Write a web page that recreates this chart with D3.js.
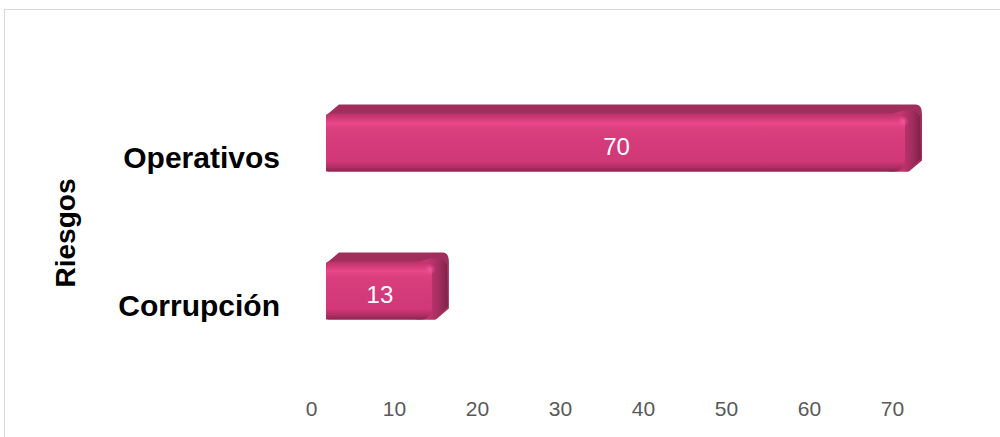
<!DOCTYPE html>
<html>
<head>
<meta charset="utf-8">
<script src="https://cdn.jsdelivr.net/npm/d3@7"></script>
<style>
  html, body { margin: 0; padding: 0; background: #ffffff; }
  svg { display: block; }
</style>
</head>
<body>
<svg id="chart" width="1000" height="437"></svg>
<script>
const categories = ["Operativos", "Corrupción"];
const values = [70, 13];
const tickValues = [0, 10, 20, 30, 40, 50, 60, 70];
const axisTitle = "Riesgos";

const svg = d3.select("#chart");
const defs = svg.append("defs");

// border of chart area
svg.append("rect")
  .attr("x", 4.5).attr("y", 9.5)
  .attr("width", 1010).attr("height", 440)
  .attr("fill", "none").attr("stroke", "#d9d9d9").attr("stroke-width", 1);

const x = d3.scaleLinear().domain([0, 70]).range([311, 892]);
const y = d3.scalePoint().domain(categories).range([142.5, 290.5]);
const barH = 58;
const dx = 15, dy = 9, depthShift = 15;

// gradients
const gFront = defs.append("linearGradient").attr("id", "gFront")
  .attr("x1", 0).attr("y1", 0).attr("x2", 0).attr("y2", 1);
[[0, "#b83267"], [0.08, "#d23a76"], [0.17, "#e9488a"], [0.26, "#da3f7e"], [0.5, "#d53b7a"],
 [0.82, "#d13877"], [0.92, "#b22f66"], [1, "#8e2450"]]
  .forEach(([o, c]) => gFront.append("stop").attr("offset", o).attr("stop-color", c));

const gSide = defs.append("linearGradient").attr("id", "gSide")
  .attr("x1", 0).attr("y1", 0).attr("x2", 1).attr("y2", 0);
[[0, "#d33a78"], [0.3, "#c43470"], [0.7, "#a02d5e"], [1, "#7e2249"]]
  .forEach(([o, c]) => gSide.append("stop").attr("offset", o).attr("stop-color", c));

const gTop = defs.append("linearGradient").attr("id", "gTop")
  .attr("x1", 0).attr("y1", 0).attr("x2", 0).attr("y2", 1);
[[0, "#a02e5d"], [1, "#a8315f"]]
  .forEach(([o, c]) => gTop.append("stop").attr("offset", o).attr("stop-color", c));

const gSpot = defs.append("radialGradient").attr("id", "gSpot")
  .attr("cx", 0.5).attr("cy", 0.5).attr("r", 0.5);
[[0, "#f0579a", 1], [1, "#e9488a", 0]]
  .forEach(([o, c, a]) => gSpot.append("stop").attr("offset", o).attr("stop-color", c).attr("stop-opacity", a));

const bars = svg.append("g").selectAll("g.bar")
  .data(categories.map((c, i) => ({ c, v: values[i] })))
  .join("g").attr("class", "bar");

bars.each(function(d) {
  const g = d3.select(this);
  const x0 = x(0) + depthShift;
  const x1 = x(d.v) + depthShift;
  const yt = y(d.c) - barH / 2;
  const yb = y(d.c) + barH / 2;
  const r = 6;
  // silhouette (top + side)
  const p = d3.path();
  p.moveTo(x0, yt + 2);
  p.lineTo(x0 + dx - 2, yt - dy);
  p.lineTo(x1 + dx - r, yt - dy);
  p.quadraticCurveTo(x1 + dx, yt - dy, x1 + dx, yt - dy + r + 4);
  p.lineTo(x1 + dx, yb - dy - 2);
  p.lineTo(x1 + 2, yb);
  p.lineTo(x0, yb);
  p.closePath();
  g.append("path").attr("d", p.toString()).attr("fill", "url(#gTop)");
  // side face
  const s = d3.path();
  s.moveTo(x1 - 14, yt);
  s.quadraticCurveTo(x1 + dx - 8, yt - dy + 1, x1 + dx - 2, yt - dy + r + 6);
  s.lineTo(x1 + dx - 1, yb - dy - 4);
  s.lineTo(x1 + 1, yb);
  s.lineTo(x1 - 14, yb);
  s.closePath();
  g.append("path").attr("d", s.toString()).attr("fill", "url(#gSide)");
  // front face
  g.append("rect")
    .attr("x", x0).attr("y", yt)
    .attr("width", Math.max(0, x1 - x0 - 12)).attr("height", barH)
    .attr("rx", 3)
    .attr("fill", "url(#gFront)");
  // rounded front right corner blend
  g.append("rect")
    .attr("x", x1 - 26).attr("y", yt)
    .attr("width", 24).attr("height", barH)
    .attr("rx", 10)
    .attr("fill", "url(#gFront)");
  // highlight spot
  g.append("ellipse")
    .attr("cx", x1 - 4).attr("cy", yt + 8)
    .attr("rx", 6).attr("ry", 6)
    .attr("fill", "url(#gSpot)");
  // value label
  g.append("text")
    .attr("x", (x0 + x1) / 2).attr("y", y(d.c) + 12)
    .attr("text-anchor", "middle")
    .attr("font-family", "Liberation Sans, Arial, sans-serif")
    .attr("font-size", 24)
    .attr("fill", "#ffffff")
    .text(d.v);
});

// category labels
svg.append("g").selectAll("text")
  .data(categories)
  .join("text")
  .attr("x", 280).attr("y", d => y(d) + 25)
  .attr("text-anchor", "end")
  .attr("font-family", "Liberation Sans, Arial, sans-serif")
  .attr("font-weight", "bold")
  .attr("font-size", 30)
  .attr("fill", "#000000")
  .text(d => d);

// x axis tick labels
const xAxis = d3.axisBottom(x).tickValues(tickValues).tickSize(0).tickPadding(0);
const ax = svg.append("g").attr("transform", "translate(0,401)").call(xAxis);
ax.select(".domain").remove();
ax.selectAll("text")
  .attr("font-family", "Liberation Sans, Arial, sans-serif")
  .attr("font-size", 21)
  .attr("fill", "#595959");

// axis title
svg.append("text")
  .attr("transform", "translate(75,233) rotate(-90)")
  .attr("text-anchor", "middle")
  .attr("font-family", "Liberation Sans, Arial, sans-serif")
  .attr("font-weight", "bold")
  .attr("font-size", 28)
  .attr("fill", "#000000")
  .text(axisTitle);
</script>
</body>
</html>
